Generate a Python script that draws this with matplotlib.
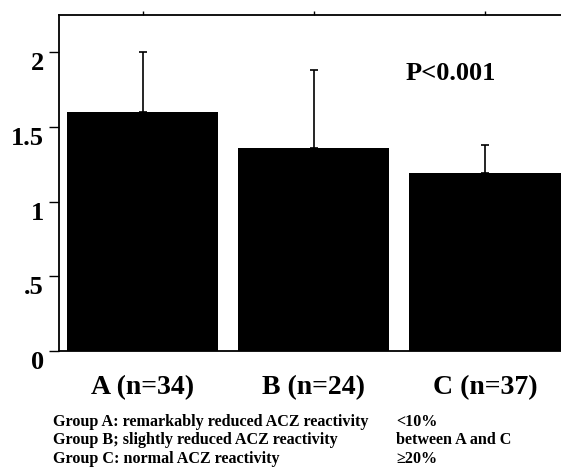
import matplotlib
matplotlib.use("Agg")
import matplotlib.pyplot as plt
import matplotlib.transforms as mtransforms

# data
groups = ["A (n=34)", "B (n=24)", "C (n=37)"]
means = [1.60, 1.36, 1.19]
sds = [0.40, 0.52, 0.19]
yticks = [0, 0.5, 1, 1.5, 2]
ytick_labels = ["0", ".5", "1", "1.5", "2"]
p_text = "P<0.001"
notes_left = ["Group A: remarkably reduced ACZ reactivity",
              "Group B; slightly reduced ACZ reactivity",
              "Group C: normal ACZ reactivity"]
notes_right = ["<10%", "between A and C", "\u226520%"]

plt.rcParams["font.family"] = ["Liberation Serif", "DejaVu Serif"]
plt.rcParams["font.weight"] = "bold"

fig = plt.figure(figsize=(5.61, 4.68), dpi=100)
ax = fig.add_axes([0.105, 0.25, 0.912, 0.718])

x = list(range(len(groups)))
ax.bar(x, means, width=0.883, color="black")
ax.errorbar(x, means, yerr=[[0] * len(sds), sds], fmt="none",
            ecolor="black", elinewidth=1.2, capsize=3, capthick=1.2)

ax.set_xlim(-0.49, 2.5)
ax.set_ylim(0, 2.25)

ax.set_yticks(yticks)
ax.set_yticklabels(ytick_labels, fontsize=19, fontweight="bold")
ax.tick_params(axis="y", direction="out", length=7, width=1, pad=4)
offset = mtransforms.ScaledTranslation(0, -9 / 100, fig.dpi_scale_trans)
for lab in ax.get_yticklabels():
    lab.set_transform(lab.get_transform() + offset)

ax.set_xticks(x)
ax.set_xticklabels(groups, fontsize=20, fontweight="bold")
ax.tick_params(axis="x", bottom=False, top=True, direction="out",
               length=3, width=1, pad=14)

ax.spines["right"].set_visible(False)
for s in ["left", "bottom", "top"]:
    ax.spines[s].set_linewidth(1.3)

ax.text(1.80, 1.855, p_text, fontsize=19, fontweight="bold",
        ha="center", va="center")

for i, (l, r) in enumerate(zip(notes_left, notes_right)):
    y = 1 - (422 + 18.5 * i) / 468
    fig.text(53 / 561, y, l, fontsize=11.6, fontweight="bold", va="center")
    fig.text(396 / 561, y, r, fontsize=11.6, fontweight="bold", va="center")

fig.savefig("out.png", dpi=100)
